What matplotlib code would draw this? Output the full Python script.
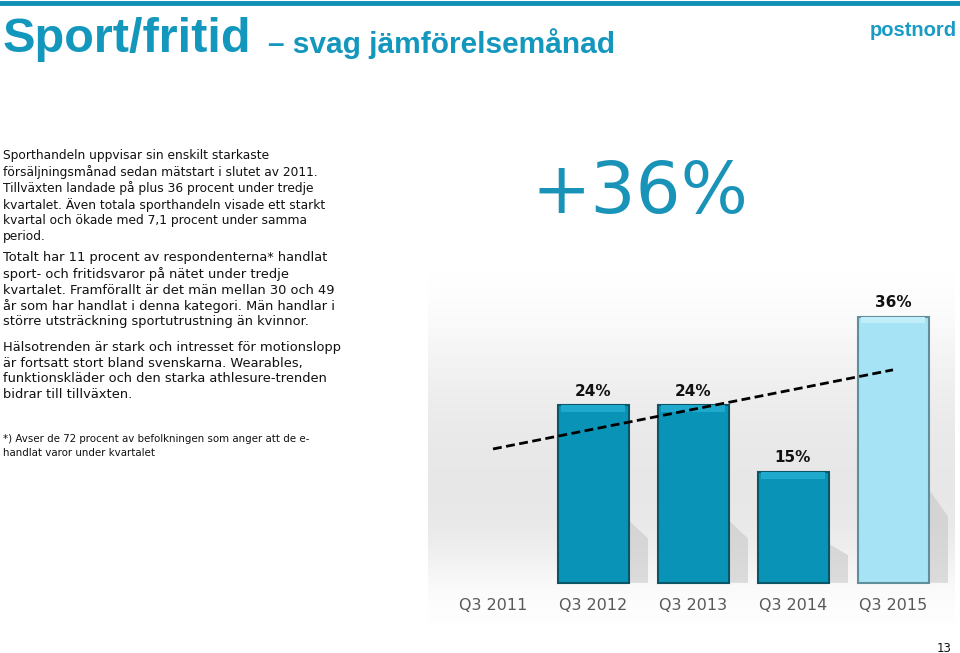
import numpy as np
import matplotlib
matplotlib.use("Agg")
import matplotlib.pyplot as plt
from matplotlib.colors import LinearSegmentedColormap

# data
quarters = ["Q3 2011", "Q3 2012", "Q3 2013", "Q3 2014", "Q3 2015"]
growth = [None, 24, 24, 15, 36]          # no bar shown for Q3 2011
trend_x = [0, 4]
trend_y = [18.1, 28.8]

para1 = ["Sporthandeln uppvisar sin enskilt starkaste",
         "försäljningsmånad sedan mätstart i slutet av 2011.",
         "Tillväxten landade på plus 36 procent under tredje",
         "kvartalet. Även totala sporthandeln visade ett starkt",
         "kvartal och ökade med 7,1 procent under samma",
         "period."]
para2 = ["Totalt har 11 procent av respondenterna* handlat",
         "sport- och fritidsvaror på nätet under tredje",
         "kvartalet. Framförallt är det män mellan 30 och 49",
         "år som har handlat i denna kategori. Män handlar i",
         "större utsträckning sportutrustning än kvinnor."]
para3 = ["Hälsotrenden är stark och intresset för motionslopp",
         "är fortsatt stort bland svenskarna. Wearables,",
         "funktionskläder och den starka athlesure-trenden",
         "bidrar till tillväxten."]
footnote = ["*) Avser de 72 procent av befolkningen som anger att de e-",
            "handlat varor under kvartalet"]

W, H = 960, 653
teal = "#1497bd"
fig = plt.figure(figsize=(W / 100, H / 100), dpi=100)
fig.patch.set_facecolor("white")

def px(x, y):
    return x / W, 1 - y / H

# top rule
fig.add_artist(plt.Line2D([0, 1], [1 - 2.5 / H] * 2, color="#1190b6", lw=3.5))

fig.text(*px(3, 40), "Sport/fritid", family="Liberation Sans", weight="bold",
         fontsize=35, color=teal, va="center")
fig.text(*px(268, 44), "– svag jämförelsemånad", family="Liberation Sans",
         weight="bold", fontsize=21.5, color=teal, va="center")
fig.text(*px(957, 30), "postnord", family="Liberation Sans", weight="heavy",
         fontsize=14.5, color="#1a9bc6", ha="right", va="center")

def block(lines, y0, step, size):
    for i, ln in enumerate(lines):
        fig.text(*px(3, y0 + i * step), ln, fontsize=size, color="#111111",
                 va="center", family="DejaVu Sans")

block(para1, 156, 16.2, 8.8)
block(para2, 258, 16.0, 9.4)
block(para3, 347, 16.0, 9.4)
block(footnote, 439, 14.0, 7.4)

fig.text(*px(640, 193), "+36%", fontsize=51, color="#1a93b8", ha="center",
         va="center", family="DejaVu Sans")
fig.text(*px(952, 648), "13", fontsize=8.5, color="#111111", ha="right",
         va="center")

# chart axes
ax = fig.add_axes([428 / W, 1 - 625 / H, 527 / W, 355 / H])
ax.set_xlim(-0.65, 4.62)
ax.set_ylim(-5.7, 42.3)
ax.axis("off")

# soft grey background
grad = np.array([[0.0], [0.5], [0.85], [1.0], [0.95], [0.0]])
cm = LinearSegmentedColormap.from_list("bg", ["#ffffff", "#e7e7e7"])
ax.imshow(grad, extent=[-0.65, 4.62, -5.7, 42.3], aspect="auto", cmap=cm,
          interpolation="bicubic", zorder=0, vmin=0, vmax=1)

xs = np.arange(len(quarters))
for x, v in zip(xs, growth):
    if v is None:
        continue
    last = x == len(quarters) - 1
    face = "#a6e3f4" if last else "#0994b7"
    edge = "#5f8f9b" if last else "#0a5566"
    top = "#c2eefa" if last else "#1fa9cd"
    # drop shadow
    ax.fill([x + 0.355, x + 0.36, x + 0.55, x + 0.55],
            [0, v * 0.35, v * 0.25, 0], color="#c4c4c4", alpha=0.55,
            lw=0, zorder=1)
    ax.bar(x, v, width=0.71, color=face, edgecolor=edge, lw=1.5, zorder=2)
    ax.bar(x, 0.9, bottom=v - 0.9, width=0.64, color=top, lw=0, zorder=3)
    ax.text(x, v + 1.9, f"{v}%", ha="center", va="center", fontsize=11,
            weight="bold", color="#111111", zorder=5)

ax.plot(trend_x, trend_y, color="black", lw=2, ls=(0, (3.2, 1.6)), zorder=4)

for x, q in zip(xs, quarters):
    ax.text(x, -3.0, q, ha="center", va="center", fontsize=11.5,
            color="#595959", zorder=5)

fig.savefig("out.png", dpi=100)
